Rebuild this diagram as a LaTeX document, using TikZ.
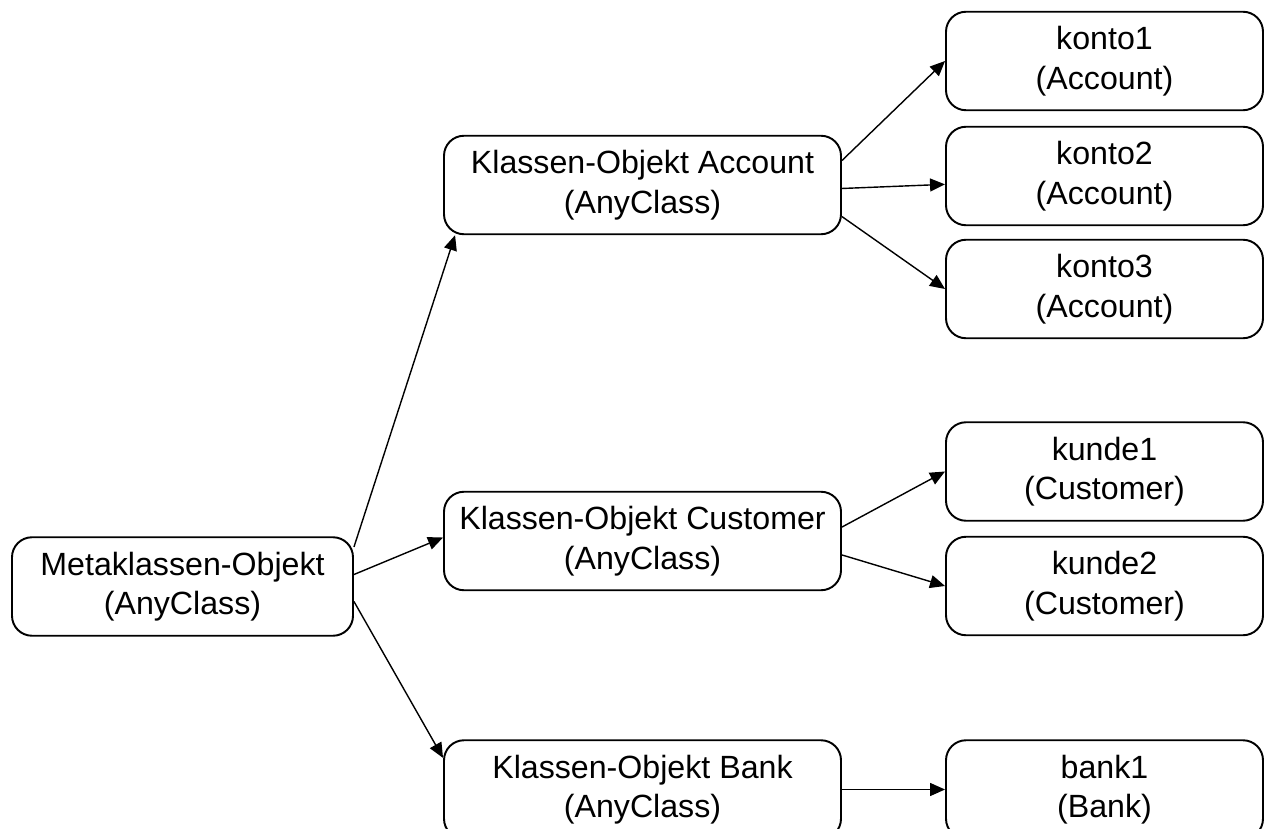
\documentclass[tikz,border=0pt]{standalone}
\usepackage{fontspec}
\setmainfont{Liberation Sans}
\usetikzlibrary{positioning,arrows.meta}

\tikzset{
  obj/.style={draw,line width=1.1pt,rounded corners=0.4cm,align=center,
    inner sep=0pt,minimum height=1.97cm,font=\fontsize{18.3}{22.5}\selectfont},
  meta/.style={obj,minimum width=6.82cm},
  klasse/.style={obj,minimum width=7.94cm},
  inst/.style={obj,minimum width=6.34cm},
  pfeil/.style={line width=0.8pt,-{Triangle[length=3mm,width=2.6mm]}}
}

\begin{document}
\begin{tikzpicture}
        \useasboundingbox (0,0) rectangle (25.32,16.56);

        \node[meta] at (3.65,4.83) (M) {Metaklassen-Objekt\\(AnyClass)};
        \node[klasse] at (12.85,12.86) (KA) {Klassen-Objekt Account\\(AnyClass)};
        \node[klasse] at (12.85,5.74) (KC) {Klassen-Objekt Customer\\(AnyClass)};
        \node[klasse] at (12.85,0.77) (KB) {Klassen-Objekt Bank\\(AnyClass)};

        \node[inst] at (22.09,15.34) (k1) {konto1\\(Account)};
        \node[inst] at (22.09,13.04) (k2) {konto2\\(Account)};
        \node[inst] at (22.09,10.78) (k3) {konto3\\(Account)};
        \node[inst] at (22.09,7.13) (c1) {kunde1\\(Customer)};
        \node[inst] at (22.09,4.84) (c2) {kunde2\\(Customer)};
        \node[inst] at (22.09,0.77) (b1) {bank1\\(Bank)};

        % Metaklasse -> Klassen
        \draw[pfeil] (M.13) -- (KA.195);
        \draw[pfeil] (M.4) -- (KC.179);
        \draw[pfeil] (M.-5) -- (KB.171);

        % Klassen -> Instanzen
        \draw[pfeil] (KA.7) -- (k1.west);
        \draw[pfeil] (KA.-1) -- (k2.183);
        \draw[pfeil] (KA.-9) -- (k3.west);
        \draw[pfeil] (KC.4) -- (c1.west);
        \draw[pfeil] (KC.-4) -- (c2.west);
        \draw[pfeil] (KB.east) -- (b1.west);
      \end{tikzpicture}
\end{document}
